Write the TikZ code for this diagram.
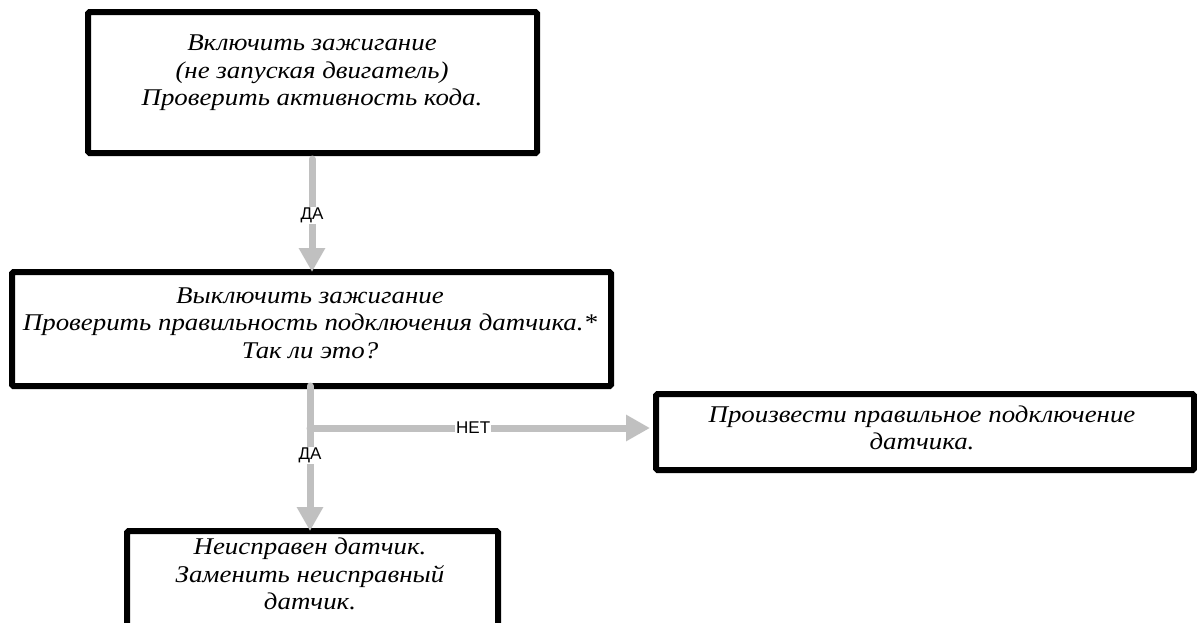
\documentclass[tikz,border=0pt]{standalone}
\usepackage{fontspec}
\setmainfont{Liberation Serif}
\newfontfamily\boxfont[FakeStretch=1.12]{Liberation Serif}
\newfontfamily\labfont{Liberation Sans}
\usetikzlibrary{arrows.meta}
\definecolor{arrgray}{RGB}{192,192,192}
\tikzset{
  boxframe/.style={draw=black, line width=6pt, rounded corners=1.5pt, fill=white},
  boxtext/.style={font=\boxfont\fontsize{24}{27.5}\selectfont\itshape, align=center, inner sep=0pt},
  flow/.style={draw=arrgray, line width=7pt, line cap=round, -{Triangle[width=25pt,length=24pt]}},
  flowline/.style={draw=arrgray, line width=7pt, line cap=round},
  lab/.style={font=\labfont\fontsize{17}{18}\selectfont, fill=white, inner sep=1pt}
}
\begin{document}
\begin{tikzpicture}[x=1pt,y=-1pt]
\useasboundingbox (0,0) rectangle (1197,622);
\clip (0,0) rectangle (1197,622);
% boxes
\node[boxframe, minimum width=449pt, minimum height=141pt, anchor=north west] (b1) at (85,9) {};
\node[boxframe, minimum width=599pt, minimum height=114pt, anchor=north west] (b2) at (9,269) {};
\node[boxframe, minimum width=538pt, minimum height=76pt, anchor=north west] (b3) at (653,391) {};
\node[boxframe, minimum width=371pt, minimum height=140pt, anchor=north west] (b4) at (124,528) {};
% texts
\node[boxtext] (t1) at (312,73) {Включить зажигание\\(не запуская двигатель)\\Проверить активность кода.};
\node[boxtext] (t2) at (310,323) {Выключить зажигание\\Проверить правильность подключения датчика.*\\Так ли это?};
\node[boxtext] (t3) at (922,428) {Произвести правильное подключение\\датчика.};
\node[boxtext] (t4) at (310,574) {Неисправен датчик.\\Заменить неисправный\\датчик.};
% connectors
\coordinate (br) at (310,428);
\draw[flow] (b1.south -| 312,0) ++(0,3) -- ([yshift=-3pt]b2.north -| 312,0) node[lab, pos=0.5] (l1) {ДА};
\draw[flowline] ([yshift=3pt]b2.south -| br) -- (br);
\draw[flow] (br) -- ([xshift=-3pt]b3.west |- br) node[lab, pos=0.48] (l2) {НЕТ};
\draw[flow] (br) -- ([yshift=-3pt]b4.north -| br) node[lab, pos=0.27] (l3) {ДА};
\end{tikzpicture}
\end{document}
